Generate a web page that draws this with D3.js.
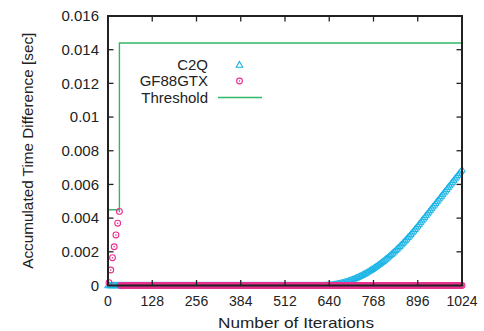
<!DOCTYPE html>
<html>
<head>
<meta charset="utf-8">
<script src="https://cdn.jsdelivr.net/npm/d3@7"></script>
<style>
  html, body { margin: 0; padding: 0; background: #fff; }
  svg text { font-family: "Liberation Sans", Arial, Helvetica, sans-serif; fill: #222; }
</style>
</head>
<body>
<svg id="chart" width="484" height="331"></svg>
<script>
// ---------------- data ----------------
const xTickValues = [0, 128, 256, 384, 512, 640, 768, 896, 1024];
const xTickLabels = ["0", "128", "256", "384", "512", "640", "768", "896", "1024"];
const yTickValues = [0, 0.002, 0.004, 0.006, 0.008, 0.01, 0.012, 0.014, 0.016];
const yTickLabels = ["0", "0.002", "0.004", "0.006", "0.008", "0.01", "0.012", "0.014", "0.016"];

const seriesNames = ["C2Q", "GF88GTX", "Threshold"];

// C2Q: iterations 0..1024 every 4
const c2qIterations = d3.range(0, 1025, 4);
const c2qValues = [
  0,0,0,0,0,0,0,0,0,0, 0,0,0,0,0,0,0,0,0,0,
  0,0,0,0,0,0,0,0,0,0, 0,0,0,0,0,0,0,0,0,0,
  0,0,0,0,0,0,0,0,0,0, 0,0,0,0,0,0,0,0,0,0,
  0,0,0,0,0,0,0,0,0,0, 0,0,0,0,0,0,0,0,0,0,
  0,0,0,0,0,0,0,0,0,0, 0,0,0,0,0,0,0,0,0,0,
  0,0,0,0,0,0,0,0,0,0, 0,0,0,0,0,0,0,0,0,0,
  0,0,0,0,0,0,0,0,0,0, 0,0,0,0,0,0,0,0,0,0,
  0,0,0,0,0,0,0,0,0,0, 0,0,0,0,0,0,
  0.0000007, 0.000003, 0.0000067, 0.0000119, 0.0000186, 0.0000267, 0.0000364, 0.0000475, 0.0000602, 0.0000743,
  0.0000899, 0.000107, 0.0001255, 0.0001456, 0.0001671, 0.0001902, 0.0002147, 0.0002407, 0.0002682, 0.0002972,
  0.0003276, 0.0003596, 0.000393, 0.0004279, 0.0004643, 0.0005022, 0.0005416, 0.0005824, 0.0006248, 0.0006686,
  0.0007139, 0.0007607, 0.000809, 0.0008588, 0.00091, 0.0009628, 0.001017, 0.0010727, 0.0011299, 0.0011886,
  0.0012488, 0.0013104, 0.0013736, 0.0014382, 0.0015043, 0.0015719, 0.001641, 0.0017116, 0.0017837, 0.0018572,
  0.0019322, 0.0020088, 0.0020868, 0.0021662, 0.0022472, 0.0023297, 0.0024136, 0.002499, 0.002586, 0.0026744,
  0.0027643, 0.0028556, 0.0029485, 0.0030428, 0.0031387, 0.003236, 0.0033348, 0.0034351, 0.0035369, 0.0036401,
  0.003744, 0.003848, 0.003952, 0.004056, 0.00416, 0.004264, 0.004368, 0.004472, 0.004576, 0.00468,
  0.004784, 0.004888, 0.004992, 0.005096, 0.0052, 0.005304, 0.005408, 0.005512, 0.005616, 0.00572,
  0.005824, 0.005928, 0.006032, 0.006136, 0.00624, 0.006344, 0.006448, 0.006552, 0.006656, 0.00676,
  0.006864
];

// GF88GTX: rising part at the very start, then zero
const gfHeadIterations = [3, 8, 13, 18, 23, 28, 33];
const gfHeadValues = [0.00017, 0.00092, 0.00165, 0.0023, 0.003, 0.0037, 0.0044];
const gfTailIterations = d3.range(36, 1025, 4);
const gfTailValues = [
  0,0,0,0,0,0,0,0,0,0, 0,0,0,0,0,0,0,0,0,0,
  0,0,0,0,0,0,0,0,0,0, 0,0,0,0,0,0,0,0,0,0,
  0,0,0,0,0,0,0,0,0,0, 0,0,0,0,0,0,0,0,0,0,
  0,0,0,0,0,0,0,0,0,0, 0,0,0,0,0,0,0,0,0,0,
  0,0,0,0,0,0,0,0,0,0, 0,0,0,0,0,0,0,0,0,0,
  0,0,0,0,0,0,0,0,0,0, 0,0,0,0,0,0,0,0,0,0,
  0,0,0,0,0,0,0,0,0,0, 0,0,0,0,0,0,0,0,0,0,
  0,0,0,0,0,0,0,0,0,0, 0,0,0,0,0,0,0,0,0,0,
  0,0,0,0,0,0,0,0,0,0, 0,0,0,0,0,0,0,0,0,0,
  0,0,0,0,0,0,0,0,0,0, 0,0,0,0,0,0,0,0,0,0,
  0,0,0,0,0,0,0,0,0,0, 0,0,0,0,0,0,0,0,0,0,
  0,0,0,0,0,0,0,0,0,0, 0,0,0,0,0,0,0,0,0,0,
  0,0,0,0,0,0,0,0
];

// Threshold step line
const thresholdIterations = [0, 33, 1024];
const thresholdValues = [0.0045, 0.0144, 0.0144];

// ---------------- drawing ----------------
const W = 484, H = 331;
const margin = { left: 108, right: 22, top: 16, bottom: 45.5 };
const svg = d3.select("#chart");

const x = d3.scaleLinear().domain([0, 1024]).range([margin.left, W - margin.right]);
const y = d3.scaleLinear().domain([0, 0.016]).range([H - margin.bottom, margin.top]);

const cC2Q = "#19b4e6";
const cGF = "#e8318f";
const cTh = "#2fb866";
const cAxis = "#222";

// threshold line
const thData = thresholdIterations.map((it, i) => [it, thresholdValues[i]]);
svg.append("path")
  .datum(thData)
  .attr("fill", "none")
  .attr("stroke", cTh)
  .attr("stroke-width", 1.4)
  .attr("d", d3.line().x(d => x(d[0])).y(d => y(d[1])).curve(d3.curveStepAfter));

// triangle symbol
function triPath(cx, cy) {
  const hw = 3.3, h = 5.8;
  return `M${cx},${cy - h * 0.62}L${cx + hw},${cy + h * 0.38}L${cx - hw},${cy + h * 0.38}Z`;
}

// C2Q points
const c2qData = c2qIterations.map((it, i) => [it, c2qValues[i]]);
svg.append("g").selectAll("path")
  .data(c2qData).enter().append("path")
  .attr("d", d => triPath(x(d[0]), y(d[1])))
  .attr("fill", "none")
  .attr("stroke", cC2Q)
  .attr("stroke-width", 1);

// GF88GTX points
const gfData = gfHeadIterations.map((it, i) => [it, gfHeadValues[i]])
  .concat(gfTailIterations.map((it, i) => [it, gfTailValues[i]]));
const gfG = svg.append("g");
gfG.selectAll("circle.o")
  .data(gfData).enter().append("circle")
  .attr("class", "o")
  .attr("cx", d => x(d[0])).attr("cy", d => y(d[1]))
  .attr("r", 2.9)
  .attr("fill", "none")
  .attr("stroke", cGF)
  .attr("stroke-width", 1.1);
gfG.selectAll("circle.d")
  .data(gfData).enter().append("circle")
  .attr("class", "d")
  .attr("cx", d => x(d[0])).attr("cy", d => y(d[1]))
  .attr("r", 0.8)
  .attr("fill", cGF);

// frame
svg.append("rect")
  .attr("x", x(0)).attr("y", y(0.016))
  .attr("width", x(1024) - x(0)).attr("height", y(0) - y(0.016))
  .attr("fill", "none").attr("stroke", cAxis).attr("stroke-width", 2);

// ticks (inward, mirrored)
const tl = 5.5;
const tg = svg.append("g").attr("stroke", cAxis).attr("stroke-width", 1.3);
xTickValues.forEach(v => {
  if (v === 0 || v === 1024) return;
  tg.append("line").attr("x1", x(v)).attr("x2", x(v)).attr("y1", y(0)).attr("y2", y(0) - tl);
  tg.append("line").attr("x1", x(v)).attr("x2", x(v)).attr("y1", y(0.016)).attr("y2", y(0.016) + tl);
});
yTickValues.forEach(v => {
  if (v === 0 || v === 0.016) return;
  tg.append("line").attr("x1", x(0)).attr("x2", x(0) + tl).attr("y1", y(v)).attr("y2", y(v));
  tg.append("line").attr("x1", x(1024)).attr("x2", x(1024) - tl).attr("y1", y(v)).attr("y2", y(v));
});

// tick labels
const xTickFs = "14px";
const yTickFs = "15px";
const labFs = "15px";
svg.append("g").selectAll("text")
  .data(xTickValues).enter().append("text")
  .attr("x", d => x(d)).attr("y", 306)
  .attr("text-anchor", "middle")
  .style("font-size", xTickFs)
  .text((d, i) => xTickLabels[i]);
svg.append("g").selectAll("text")
  .data(yTickValues).enter().append("text")
  .attr("x", 99).attr("y", d => y(d))
  .attr("dy", "0.35em")
  .attr("text-anchor", "end")
  .style("font-size", yTickFs)
  .text((d, i) => yTickLabels[i]);

// axis titles
svg.append("text")
  .attr("x", 296).attr("y", 328)
  .attr("text-anchor", "middle")
  .attr("textLength", 156)
  .attr("lengthAdjust", "spacingAndGlyphs")
  .style("font-size", labFs)
  .text("Number of Iterations");
svg.append("text")
  .attr("transform", `translate(33,${(y(0) + y(0.016)) / 2}) rotate(-90)`)
  .attr("text-anchor", "middle")
  .style("font-size", "15.3px")
  .text("Accumulated Time Difference [sec]");

// legend
const legY = [64.5, 81, 97.5];
const leg = svg.append("g");
seriesNames.forEach((name, i) => {
  leg.append("text")
    .attr("x", 208).attr("y", legY[i])
    .attr("dy", "0.35em")
    .attr("text-anchor", "end")
    .style("font-size", labFs)
    .text(name);
});
leg.append("path").attr("d", triPath(239.5, legY[0] + 0.5))
  .attr("fill", "none").attr("stroke", cC2Q).attr("stroke-width", 1.1);
leg.append("circle").attr("cx", 239.5).attr("cy", legY[1])
  .attr("r", 2.9).attr("fill", "none").attr("stroke", cGF).attr("stroke-width", 1.1);
leg.append("circle").attr("cx", 239.5).attr("cy", legY[1])
  .attr("r", 0.8).attr("fill", cGF);
leg.append("line").attr("x1", 218).attr("x2", 262).attr("y1", 97.5).attr("y2", 97.5)
  .attr("stroke", cTh).attr("stroke-width", 1.4);
</script>
</body>
</html>
